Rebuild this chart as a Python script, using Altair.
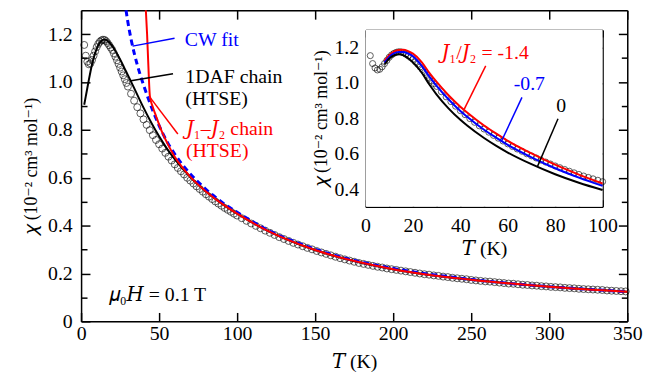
import altair as alt
import pandas as pd

FONT = "Liberation Serif, Times New Roman, DejaVu Serif, serif"

# ---------------- measured susceptibility (open circles) ----------------
T_data = [2, 3, 4, 5, 6, 7, 8, 9, 10, 11, 12, 13, 14, 15, 16, 17, 18, 19, 20,
          21, 22, 23, 24, 25, 26, 27, 28, 29, 30,
          32, 34, 36, 38, 40, 42, 44, 46, 48, 50, 52, 54, 56, 58, 60, 62, 64,
          66, 68, 70, 72, 74, 76, 78, 80, 82, 84, 86, 88, 90, 92, 94, 96, 98, 100,
          103, 106, 109, 112, 115, 118, 121, 124, 127, 130, 133, 136, 139, 142,
          145, 148, 151, 154, 157, 160, 163, 166, 169, 172, 175, 178, 181, 184,
          187, 190, 193, 196, 199, 202, 205, 208, 211, 214, 217, 220, 223, 226,
          229, 232, 235, 238, 241, 244, 247, 250, 253, 256, 259, 262, 265, 268,
          271, 274, 277, 280, 283, 286, 289, 292, 295, 298, 301, 304, 307, 310,
          313, 316, 319, 322, 325, 328, 331, 334, 337, 340, 343, 346, 349]
chi_data = [1.155, 1.110, 1.085, 1.074, 1.078, 1.092, 1.110, 1.128, 1.146, 1.159,
            1.168, 1.174, 1.177, 1.176, 1.171, 1.163, 1.154, 1.144, 1.134,
            1.120, 1.106, 1.091, 1.076, 1.060, 1.044, 1.028, 1.012, 0.996, 0.981,
            0.951, 0.922, 0.895, 0.869, 0.844, 0.821, 0.799, 0.778, 0.758, 0.740,
            0.722, 0.704, 0.688, 0.672, 0.656, 0.641, 0.627, 0.614, 0.600, 0.588,
            0.576, 0.564, 0.553, 0.542, 0.531, 0.521, 0.511, 0.501, 0.492, 0.483,
            0.474, 0.466, 0.458, 0.450, 0.442,
            0.431, 0.420, 0.409, 0.399, 0.389, 0.379, 0.370, 0.361, 0.352, 0.344,
            0.336, 0.328, 0.321, 0.314, 0.307, 0.301, 0.294, 0.288, 0.282, 0.276,
            0.270, 0.264, 0.259, 0.254, 0.249, 0.244, 0.240, 0.236, 0.232, 0.228,
            0.225, 0.221, 0.218, 0.215, 0.212, 0.209, 0.206, 0.203, 0.200, 0.197,
            0.195, 0.192, 0.190, 0.187, 0.185, 0.182, 0.180, 0.178, 0.176, 0.173,
            0.171, 0.169, 0.167, 0.166, 0.164, 0.162, 0.160, 0.158, 0.157, 0.155,
            0.153, 0.152, 0.150, 0.149, 0.147, 0.146, 0.144, 0.143, 0.142, 0.140,
            0.139, 0.138, 0.136, 0.135, 0.134, 0.133, 0.132, 0.131, 0.129, 0.128,
            0.127, 0.126, 0.125]

# ---------------- main-panel model curves ----------------
T_1daf = [2, 3, 4, 5, 6, 7, 8, 9, 10, 11, 12, 13, 14, 15, 16, 17, 18, 20, 22, 24,
          26, 28, 30, 32, 35, 40, 45, 50, 55, 60, 70, 80, 90, 100, 120, 140, 160,
          180, 200, 225, 250, 275, 300, 325, 350]
chi_1daf = [0.905, 0.940, 0.975, 1.010, 1.043, 1.073, 1.099, 1.121, 1.139, 1.154,
            1.165, 1.172, 1.176, 1.177, 1.176, 1.172, 1.166, 1.150, 1.130, 1.107,
            1.082, 1.055, 1.029, 1.002, 0.961, 0.893, 0.830, 0.773, 0.722, 0.678,
            0.603, 0.543, 0.493, 0.450, 0.377, 0.321, 0.277, 0.244, 0.218, 0.193,
            0.174, 0.158, 0.145, 0.134, 0.124]

T_j1j2 = [41.5, 42.3, 43.1, 44.1, 46, 48, 51.5, 55, 60, 65, 70, 80, 90, 100, 120,
          150, 200, 250, 300, 350]
chi_j1j2 = [1.30, 1.20, 1.07, 0.94, 0.895, 0.858, 0.797, 0.748, 0.688, 0.642, 0.604,
            0.543, 0.493, 0.450, 0.377, 0.298, 0.218, 0.174, 0.145, 0.124]

T_cw = [28.8, 30, 32, 34, 36, 38, 40, 43, 46, 50, 55, 60, 65, 70, 80, 90, 100,
        120, 140, 160, 180, 200, 250, 300, 350]
chi_cw = [1.30, 1.250, 1.180, 1.122, 1.072, 1.028, 0.988, 0.932, 0.880, 0.818, 0.752,
          0.699, 0.654, 0.616, 0.552, 0.499, 0.456, 0.380, 0.325, 0.281, 0.247,
          0.221, 0.175, 0.145, 0.124]

# ---------------- inset model curves ----------------
T_inset = [8, 10, 12, 14, 16, 18, 20, 23.6, 27, 30, 35, 40, 43, 50, 55, 60, 70, 80,
           90, 100]
chi_m14 = [1.125, 1.158, 1.178, 1.187, 1.188, 1.180, 1.166, 1.120, 1.056, 1.006,
           0.931, 0.866, 0.832, 0.760, 0.715, 0.673, 0.602, 0.538, 0.482, 0.432]
chi_m07 = [1.115, 1.148, 1.168, 1.176, 1.175, 1.166, 1.151, 1.099, 1.035, 0.984,
           0.908, 0.842, 0.808, 0.736, 0.692, 0.650, 0.580, 0.518, 0.465, 0.418]
chi_0 = [1.105, 1.138, 1.156, 1.163, 1.157, 1.140, 1.117, 1.061, 0.990, 0.935,
         0.857, 0.792, 0.758, 0.689, 0.646, 0.607, 0.541, 0.484, 0.436, 0.395]

# ---------------- annotations ----------------
main_labels = ["CW fit", "1DAF chain", "(HTSE)", "𝐽₁–𝐽₂ chain", "(HTSE)", "𝜇₀𝐻 = 0.1 T"]
main_label_T = [66.5, 66.8, 66.8, 67.2, 67.2, 17.7]
main_label_chi = [1.175, 1.020, 0.927, 0.805, 0.710, 0.110]
main_label_col = ["#0000ff", "black", "black", "#ff0000", "#ff0000", "black"]

lead_T1 = [33.0, 32.0, 44.3]
lead_T2 = [59.9, 58.9, 62.0]
lead_c1 = [1.150, 1.005, 0.935]
lead_c2 = [1.183, 1.035, 0.783]
lead_col = ["#0000ff", "black", "#ff0000"]

inset_labels = ["𝐽₁/𝐽₂ = -1.4", "-0.7", "0"]
inset_label_T = [32.0, 62.5, 80.5]
inset_label_chi = [1.170, 0.993, 0.867]
inset_label_col = ["#ff0000", "#0000ff", "black"]

ilead_T1 = [50.7, 66.0, 81.2]
ilead_T2 = [41.6, 57.4, 72.6]
ilead_c1 = [1.097, 0.919, 0.798]
ilead_c2 = [0.851, 0.672, 0.530]

# ---------------- ticks ----------------
main_T_ticks = [0, 50, 100, 150, 200, 250, 300, 350]
main_chi_major = [0, 0.2, 0.4, 0.6, 0.8, 1.0, 1.2]
main_chi_minor = [0.1, 0.3, 0.5, 0.7, 0.9, 1.1]
inset_T_major = [0, 20, 40, 60, 80, 100]
inset_T_minor = [10, 30, 50, 70, 90]
inset_chi_ticks = [0.4, 0.6, 0.8, 1.0, 1.2]

W, H = 553, 315
IN_X = [288, 528]
IN_Y = [199, 20]

df_data = pd.DataFrame({"T": T_data, "chi": chi_data})
df_1daf = pd.DataFrame({"T": T_1daf, "chi": chi_1daf})
df_j1j2 = pd.DataFrame({"T": T_j1j2, "chi": chi_j1j2})
df_cw = pd.DataFrame({"T": T_cw, "chi": chi_cw})
df_in = pd.DataFrame({"T": T_inset * 3,
                      "chi": chi_m14 + chi_m07 + chi_0,
                      "s": ["-1.4"] * len(T_inset) + ["-0.7"] * len(T_inset) + ["0"] * len(T_inset)})
df_mlab = pd.DataFrame({"T": main_label_T, "chi": main_label_chi, "t": main_labels, "c": main_label_col})
df_mlead = pd.DataFrame({"T": lead_T1, "T2": lead_T2, "chi": lead_c1, "chi2": lead_c2, "c": lead_col})
df_ilab = pd.DataFrame({"T": inset_label_T, "chi": inset_label_chi, "t": inset_labels, "c": inset_label_col})
df_ilead = pd.DataFrame({"T": ilead_T1, "T2": ilead_T2, "chi": ilead_c1, "chi2": ilead_c2, "c": inset_label_col})
df_box = pd.DataFrame({"T": [0], "T2": [100], "chi": [0.3], "chi2": [1.3]})


def inward(n):
    return {"expr": str(-n)}


ax_kw = dict(labelFont=FONT, titleFont=FONT, labelFontSize=20, titleFontSize=20,
             titleFontWeight="normal", labelColor="black", titleColor="black",
             domainColor="black", tickColor="black", domainWidth=1.5, tickWidth=1.5,
             grid=False, labelOverlap=False, labelFlush=False)
tick_kw = dict(labels=False, title=None, domain=False, tickColor="black", tickWidth=1.5,
               grid=False)

# ---- scales ----
mx_scale = alt.Scale(domain=[0, 350], nice=False, zero=False)
my_scale = alt.Scale(domain=[0, 1.3], nice=False, zero=False)
ix_scale = alt.Scale(domain=[0, 100], range=IN_X, nice=False, zero=False)
iy_scale = alt.Scale(domain=[0.3, 1.3], range=IN_Y, nice=False, zero=False)

# ---- main panel ----
mx_axis = alt.Axis(orient="bottom", values=main_T_ticks, format="d", title="𝑇 (K)",
                   tickSize=inward(9), labelPadding=11, titlePadding=9, **ax_kw)
my_axis = alt.Axis(orient="left", values=main_chi_major, title="𝜒 (10⁻² cm³ mol⁻¹)",
                   labelExpr="datum.value == 0 ? '0' : format(datum.value, '.1f')",
                   tickSize=inward(9), labelPadding=18, titlePadding=7,
                   **{**ax_kw, "titleFontSize": 18})
MX = alt.X("T:Q", scale=mx_scale, axis=mx_axis)
MY = alt.Y("chi:Q", scale=my_scale, axis=my_axis)

pts = alt.Chart(df_data).mark_point(shape="circle", filled=False, size=50,
                                    color="black", strokeWidth=0.9).encode(x=MX, y=MY)
l_1daf = alt.Chart(df_1daf).mark_line(color="black", strokeWidth=2, interpolate="monotone").encode(x=MX, y=MY)
l_j1j2 = alt.Chart(df_j1j2).mark_line(color="#ff0000", strokeWidth=2, interpolate="monotone").encode(x=MX, y=MY)
l_cw = alt.Chart(df_cw).mark_line(color="#0000ff", strokeWidth=3, strokeDash=[6, 4],
                                  interpolate="monotone").encode(x=MX, y=MY)
m_lead = alt.Chart(df_mlead).mark_rule(strokeWidth=1.5).encode(
    x=MX, y=MY, x2="T2:Q", y2="chi2:Q", color=alt.Color("c:N", scale=None))
m_text = alt.Chart(df_mlab).mark_text(font=FONT, fontSize=20, align="left", baseline="middle").encode(
    x=MX, y=MY, text="t:N", color=alt.Color("c:N", scale=None))
main = alt.layer(pts, l_1daf, l_cw, l_j1j2, m_lead, m_text)

# ---- main mirror axes (top/right) ----
mirror = alt.Chart(df_box).mark_point(opacity=0).encode(
    x=alt.X("T:Q", scale=mx_scale,
            axis=alt.Axis(orient="top", values=main_T_ticks, labels=False, title=None,
                          tickSize=inward(9), **ax_kw)),
    y=alt.Y("chi:Q", scale=my_scale,
            axis=alt.Axis(orient="right", values=main_chi_major, labels=False, title=None,
                          tickSize=inward(9), **ax_kw)))

# ---- inset ----
ix_axis = alt.Axis(orient="bottom", offset=-(H - IN_Y[0]), values=inset_T_major, format="d",
                   title="𝑇 (K)", tickSize=inward(7), labelPadding=16, titlePadding=3, **ax_kw)
iy_axis = alt.Axis(orient="left", offset=-IN_X[0], values=inset_chi_ticks, format=".1f",
                   title="𝜒 (10⁻² cm³ mol⁻¹)", tickSize=inward(7), labelPadding=14,
                   titlePadding=4, **{**ax_kw, "titleFontSize": 18})
IX = alt.X("T:Q", scale=ix_scale, axis=ix_axis)
IY = alt.Y("chi:Q", scale=iy_scale, axis=iy_axis)

box = alt.Chart(df_box).mark_rect(fill="white").encode(x=IX, x2="T2:Q", y=IY, y2="chi2:Q")
ipts = alt.Chart(df_data).transform_filter("datum.T <= 100").mark_point(
    shape="circle", filled=False, size=38, color="black", strokeWidth=0.9).encode(x=IX, y=IY)
ilines = alt.Chart(df_in).mark_line(strokeWidth=2, interpolate="monotone").encode(
    x=IX, y=IY,
    color=alt.Color("s:N", scale=alt.Scale(domain=["0", "-0.7", "-1.4"],
                                           range=["black", "#0000ff", "#ff0000"]), legend=None),
    detail="s:N")
i_lead = alt.Chart(df_ilead).mark_rule(strokeWidth=1.5).encode(
    x=IX, y=IY, x2="T2:Q", y2="chi2:Q", color=alt.Color("c:N", scale=None))
i_text = alt.Chart(df_ilab).mark_text(font=FONT, fontSize=20, align="left", baseline="middle").encode(
    x=IX, y=IY, text="t:N", color=alt.Color("c:N", scale=None))
inset = alt.layer(box, ipts, ilines, i_lead, i_text)

imirror = alt.Chart(df_box).mark_point(opacity=0).encode(
    x=alt.X("T:Q", scale=ix_scale,
            axis=alt.Axis(orient="top", offset=-IN_Y[1], values=inset_T_major, labels=False,
                          title=None, tickSize=inward(7), **ax_kw)),
    y=alt.Y("chi:Q", scale=iy_scale,
            axis=alt.Axis(orient="right", offset=-(W - IN_X[1]), values=inset_chi_ticks,
                          labels=False, title=None, tickSize=inward(7), **ax_kw)))

# ---- minor ticks (main left/right, inset bottom/top) ----
minor_a = alt.Chart(df_box).mark_point(opacity=0).encode(
    x=alt.X("T:Q", scale=ix_scale,
            axis=alt.Axis(orient="bottom", offset=-(H - IN_Y[0]), values=inset_T_minor,
                          tickSize=inward(5), **tick_kw)),
    y=alt.Y("chi:Q", scale=my_scale,
            axis=alt.Axis(orient="left", values=main_chi_minor, tickSize=inward(6), **tick_kw)))
minor_b = alt.Chart(df_box).mark_point(opacity=0).encode(
    x=alt.X("T:Q", scale=ix_scale,
            axis=alt.Axis(orient="top", offset=-IN_Y[1], values=inset_T_minor,
                          tickSize=inward(5), **tick_kw)),
    y=alt.Y("chi:Q", scale=my_scale,
            axis=alt.Axis(orient="right", values=main_chi_minor, tickSize=inward(6), **tick_kw)))

chart = alt.layer(main, mirror, inset, imirror, minor_a, minor_b).resolve_scale(
    x="independent", y="independent", color="independent"
).properties(
    width=W, height=H,
    autosize=alt.AutoSizeParams(type="none"),
    padding={"left": 74, "top": 0, "right": 21, "bottom": 49},
).configure_view(stroke=None).configure(background="white")

chart.save("out.html", embed_options={"renderer": "svg", "actions": False})
